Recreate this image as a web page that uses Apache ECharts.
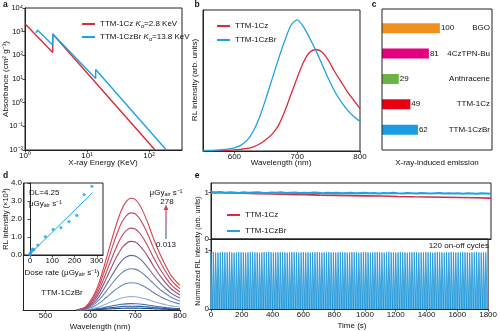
<!DOCTYPE html>
<html><head><meta charset="utf-8">
<script src="https://cdn.jsdelivr.net/npm/echarts@6/dist/echarts.min.js"></script>
<style>html,body{margin:0;padding:0;background:#fff}#c{width:500px;height:331px}</style>
</head><body><div id="c"></div>
<script>
// ---------- Panel a : X-ray absorption ----------
const aEnergyCz = [1, 2.8, 2.8, 125];
const aAbsCz    = [2150, 133, 800, 0.01];
const aEnergyBr = [1.5, 1.6, 2.8, 2.8, 13.8, 13.8, 190];
const aAbsBr    = [900, 1150, 275, 800, 10.5, 25, 0.01];
const aYTickLabels = {'-2':'10⁻²','-1':'10⁻¹','0':'10⁰','1':'10¹','2':'10²','3':'10³','4':'10⁴'};
// ---------- Panel b : RL spectra ----------
const bWave = [550,560,570,580,590,600,610,620,630,640,650,660,670,680,690,700,710,720,730,740,750,760,770,780,790,800];
const bCzBr = [0.003,0.004,0.006,0.009,0.014,0.022,0.04,0.075,0.14,0.24,0.37,0.51,0.65,0.78,0.89,0.93,0.88,0.80,0.71,0.61,0.51,0.42,0.35,0.29,0.245,0.21];
const bCz   = [0,0.001,0.002,0.003,0.005,0.008,0.012,0.018,0.03,0.05,0.08,0.12,0.18,0.28,0.40,0.52,0.63,0.70,0.72,0.70,0.64,0.56,0.49,0.42,0.36,0.30];
const bTicks = [600,700,800];
// ---------- Panel c : X-ray induced emission ----------
const cNames  = ['BGO','4CzTPN-Bu','Anthracene','TTM-1Cz','TTM-1CzBr'];
const cValues = [100,81,29,49,62];
const cColors = ['#F0901E','#E4007F','#6AB344','#E60012','#1A9BE2'];
// ---------- Panel d : dose-dependent RL ----------
const dWave  = [570,580,590,600,610,620,630,640,650,660,670,680,690,700,710,720,730,740,750,760,770,780,790,800];
const dShape = [0,0.01,0.03,0.08,0.15,0.25,0.38,0.52,0.66,0.79,0.90,0.97,1.0,0.99,0.94,0.86,0.76,0.65,0.55,0.46,0.38,0.31,0.26,0.22];
const dPeaks = [0.88,0.765,0.645,0.54,0.43,0.325,0.215,0.105,0.05,0.03,0.015];
const dColors = ['#D8414F','#CF4456','#BC465E','#9E4A6C','#5E6A9C','#6A82B2','#6688BC','#8FB0D8','#3C6AA8','#1F5599','#174A8A'];
const dTicks = [500,600,700,800];
const dDose  = [0.013,0.5,2,5,9,12,17,35,69,104,139,175,210,243,278];
const dInt   = [0.02,0.05,0.1,0.2,0.25,0.33,0.3,0.55,1.02,1.42,1.52,1.85,2.2,3.35,3.82];
const dFitX  = [0,280];
const dFitY  = [0.05,3.45];
const dInsetXTicks = [0,100,200,300];
// ---------- Panel e : stability ----------
const eRedT = [0,100,200,300,400,500,600,700,800,900,1000,1100,1200,1300,1400,1500,1600,1700,1800];
const eRed  = [1.0,0.99,0.98,0.97,0.965,0.955,0.95,0.94,0.935,0.93,0.925,0.92,0.912,0.905,0.90,0.895,0.89,0.885,0.875];
const eBlueStep = 30;
const eBlue = [1.00,0.995,1.005,0.99,1.0,0.995,0.985,1.0,0.99,0.995,1.0,0.99,0.985,0.995,0.99,1.0,0.985,0.99,0.995,0.985,0.99,0.985,0.995,0.99,0.98,0.99,0.985,0.99,0.98,0.985,0.99,0.98,0.985,0.99,0.98,0.985,0.975,0.985,0.98,0.99,0.98,0.975,0.985,0.98,0.975,0.985,0.98,0.975,0.98,0.985,0.975,0.98,0.975,0.98,0.97,0.98,0.975,0.97,0.98,0.975,0.97];
const eCyclePeriod = 15, eCycleOn = 10;
const ePulsePeaks = [0.97,0.975,0.97,0.965,0.97,0.975,0.97,0.97,0.98,0.97,0.965,0.97,0.975,0.97,0.97,0.965,0.97,0.975,0.97,0.97,
 0.97,0.965,0.97,0.975,0.97,0.98,0.97,0.965,0.97,0.97,0.975,0.97,0.97,0.965,0.97,0.975,0.97,0.97,0.965,0.97,
 0.975,0.97,0.97,0.965,0.97,0.97,0.975,0.97,0.965,0.97,0.97,0.975,0.97,0.97,0.965,0.97,0.975,0.97,0.97,0.965,
 0.97,0.975,0.97,0.97,0.965,0.97,0.97,0.975,0.97,0.965,0.97,0.97,0.975,0.97,0.97,0.965,0.97,0.98,0.97,0.97,
 0.965,0.97,0.975,0.97,0.97,0.965,0.97,0.97,0.975,0.97,0.965,0.97,0.97,0.975,0.97,0.97,0.965,0.97,0.975,0.97,
 0.97,0.965,0.97,0.97,0.975,0.97,0.965,0.97,0.97,0.975,0.97,0.97,0.965,0.97,0.97,0.975,0.97,0.965,0.97,0.97];
const eTicks = [0,1];

const RED = '#DC2A3C', BLUE = '#1FA3E0';
const FONT = 'Liberation Sans, Arial, sans-serif';
const chart = echarts.init(document.getElementById('c'));

const zip = (xs, ys) => xs.map((x, i) => [x, ys[i]]);
const axLine = {show:true, lineStyle:{color:'#222', width:1}};
const lbl = (o) => Object.assign({color:'#111', fontSize:8, fontFamily:FONT, margin:2}, o||{});
const tick = (o) => Object.assign({show:true, length:2.5, lineStyle:{color:'#222', width:0.8}}, o||{});
const noSplit = {show:false};
const plain = v => String(v);

// pulse train
const pulse = [];
ePulsePeaks.forEach((h, i) => {
  const t0 = i * eCyclePeriod;
  pulse.push([t0, 0], [t0, h], [t0 + eCycleOn, h], [t0 + eCycleOn, 0]);
});
pulse.push([1800, 0]);
const eBlueData = eBlue.map((v, i) => [i * eBlueStep, v]);

const grids = [
  {left:25, top:8, width:157, height:142},     // a
  {left:203, top:10, width:157, height:141},   // b
  {left:382, top:15.6, width:110, height:126.7},// c
  {left:23, top:183, width:157, height:127},   // d main
  {left:24, top:183, width:79, height:72},     // d inset
  {left:211, top:183, width:280, height:56},   // e top
  {left:211, top:239, width:280, height:70}    // e bottom
].map(g => Object.assign({show:false, containLabel:false}, g));
grids[0].show = grids[1].show = grids[4].show = grids[5].show = grids[6].show = true;
grids.forEach(g => { if (g.show) { g.borderColor = '#222'; g.borderWidth = 1; g.backgroundColor = 'transparent'; } });

const xAxis = [
  {gridIndex:0, type:'log', logBase:10, min:1, max:340, axisLine:axLine, splitLine:noSplit,
   axisTick:tick(), minorTick:{show:false},
   axisLabel:lbl({showMaxLabel:false, formatter:v => { const e = Math.log10(v); return Math.abs(e - Math.round(e)) < 1e-6 ? aYTickLabels[String(Math.round(e))] : ''; }})},
  {gridIndex:1, type:'value', min:550, max:800, axisLine:axLine, splitLine:noSplit,
   axisTick:tick({customValues:bTicks}), axisLabel:lbl({customValues:bTicks, formatter:plain})},
  {gridIndex:2, type:'value', min:0, max:190, show:false},
  {gridIndex:3, type:'value', min:450, max:800, axisLine:axLine, splitLine:noSplit,
   axisTick:tick({customValues:dTicks}), axisLabel:lbl({customValues:dTicks, formatter:plain})},
  {gridIndex:4, type:'value', min:-27, max:328, axisLine:axLine, splitLine:noSplit,
   axisTick:tick({customValues:dInsetXTicks}), axisLabel:lbl({customValues:dInsetXTicks, formatter:plain})},
  {gridIndex:5, type:'value', min:0, max:1800, axisLine:axLine, splitLine:noSplit, axisTick:{show:false}, axisLabel:{show:false}},
  {gridIndex:6, type:'value', min:0, max:1800, interval:200, axisLine:axLine, splitLine:noSplit,
   axisTick:tick(), axisLabel:lbl({formatter:plain})}
];
const yAxis = [
  {gridIndex:0, type:'log', logBase:10, min:0.01, max:10000, splitNumber:6, axisLine:axLine, splitLine:noSplit,
   axisTick:tick(), minorTick:{show:false},
   axisLabel:lbl({fontSize:7.5, formatter:v => aYTickLabels[String(Math.round(Math.log10(v)))] || ''})},
  {gridIndex:1, type:'value', min:0, max:1, axisLine:axLine, splitLine:noSplit, axisTick:{show:false}, axisLabel:{show:false}},
  {gridIndex:2, type:'category', data:cNames, inverse:true, position:'right', axisLine:{show:false}, axisTick:{show:false},
   axisLabel:lbl({inside:true, fontSize:8, margin:2})},
  {gridIndex:3, type:'value', min:0, max:1, axisLine:axLine, splitLine:noSplit, axisTick:{show:false}, axisLabel:{show:false}},
  {gridIndex:4, type:'value', min:0, max:4, interval:1, axisLine:axLine, splitLine:noSplit, axisTick:tick(),
   axisLabel:lbl({formatter:v => v.toFixed(1)})},
  {gridIndex:5, type:'value', min:0, max:1.2, axisLine:axLine, splitLine:noSplit,
   axisTick:tick({customValues:eTicks}), axisLabel:lbl({customValues:eTicks, formatter:plain})},
  {gridIndex:6, type:'value', min:0, max:1.2, axisLine:axLine, splitLine:noSplit,
   axisTick:tick({customValues:eTicks}), axisLabel:lbl({customValues:eTicks, formatter:plain})}
];

const line = (name, xi, data, color, w, extra) => Object.assign({
  type:'line', name, xAxisIndex:xi, yAxisIndex:xi, data, showSymbol:false, symbol:'none',
  lineStyle:{color, width:w}, itemStyle:{color}, animation:false, silent:true, z:3
}, extra||{});

const series = [
  line('TTM-1Cz', 0, zip(aEnergyCz, aAbsCz), RED, 1.4),
  line('TTM-1CzBr', 0, zip(aEnergyBr, aAbsBr), BLUE, 1.4),
  line('TTM-1Cz', 1, zip(bWave, bCz), RED, 1.3, {smooth:0.3}),
  line('TTM-1CzBr', 1, zip(bWave, bCzBr), BLUE, 1.3, {smooth:0.3}),
  {type:'bar', name:'emission', xAxisIndex:2, yAxisIndex:2, barWidth:10, animation:false,
   data:cValues.map((v, i) => ({value:v, itemStyle:{color:cColors[i]}})),
   label:{show:true, position:'right', distance:1, fontSize:8, color:'#111', fontFamily:FONT}},
];
dPeaks.slice().reverse().forEach((p, k) => {
  const idx = dPeaks.length - 1 - k;
  series.push(line('d' + idx, 3, dWave.map((w, i) => [w, dShape[i] * p]), dColors[idx], 1.1, {smooth:0.3}));
});
series.push(
  {type:'scatter', name:'dose', xAxisIndex:4, yAxisIndex:4, data:zip(dDose, dInt), symbolSize:3.2,
   itemStyle:{color:BLUE}, animation:false, silent:true, z:4},
  line('fit', 4, zip(dFitX, dFitY), BLUE, 1),
  line('TTM-1Cz', 5, zip(eRedT, eRed), RED, 1.6),
  line('TTM-1CzBr', 5, eBlueData, BLUE, 2.2),
  line('pulse', 6, pulse, '#1B93D6', 0.8, {areaStyle:{color:'#72C2EE', opacity:1}})
);

const legendBase = {icon:'rect', itemWidth:13, itemHeight:2, orient:'vertical', selectedMode:false,
  textStyle:{fontSize:8, fontFamily:FONT, color:'#111', lineHeight:10}};
const legends = [
  Object.assign({}, legendBase, {data:['TTM-1Cz','TTM-1CzBr'], left:77, top:14, itemGap:3,
    formatter:n => n === 'TTM-1Cz' ? 'TTM-1Cz {i|K}{s|α}=2.8 KeV' : 'TTM-1CzBr {i|K}{s|α}=13.8 KeV',
    textStyle:{fontSize:8, fontFamily:FONT, color:'#111', lineHeight:10,
      rich:{i:{fontStyle:'italic', fontSize:8, fontFamily:FONT}, s:{fontSize:5.5, fontFamily:FONT, verticalAlign:'bottom', lineHeight:7}}}}),
  Object.assign({}, legendBase, {data:['TTM-1Cz','TTM-1CzBr'], left:212, top:16, itemGap:4}),
  Object.assign({}, legendBase, {data:['TTM-1Cz','TTM-1CzBr'], left:222, top:205, itemGap:6})
];

const txt = (x, y, s, o) => ({type:'text', x, y, silent:true, z:10,
  style:Object.assign({text:s, fontSize:8, fontFamily:FONT, fill:'#111', align:'center', verticalAlign:'middle'}, o||{})});
const vtxt = (x, y, s, o) => Object.assign(txt(x, y, s, o), {rotation:Math.PI/2});
const sub = {s:{fontSize:5.5, fontFamily:FONT, verticalAlign:'bottom', lineHeight:7}};

const graphic = [
  txt(3, 5, 'a', {fontWeight:'bold', fontSize:8.5, align:'left'}),
  txt(197, 5, 'b', {fontWeight:'bold', fontSize:8.5}),
  txt(374, 5, 'c', {fontWeight:'bold', fontSize:8.5}),
  txt(3, 176, 'd', {fontWeight:'bold', fontSize:8.5, align:'left'}),
  txt(197, 176, 'e', {fontWeight:'bold', fontSize:8.5}),
  vtxt(6, 79, 'Absorbance (cm² g⁻¹)'),
  txt(103, 163, 'X-ray Energy (KeV)'),
  vtxt(195, 80, 'RL intensity (arb. units)'),
  txt(281, 163, 'Wavelength (nm)'),
  txt(437, 163, 'X-ray-induced emission'),
  {type:'rect', shape:{x:382, y:9, width:110, height:141}, style:{fill:'none', stroke:'#222', lineWidth:1}, silent:true, z:10},
  vtxt(6, 219, 'RL intensity (×10³)', {fontSize:7.5}),
  txt(62, 273, 'Dose rate (μGy{s|air} s⁻¹)', {rich:sub}),
  txt(100, 327, 'Wavelength (nm)'),
  txt(62, 293, 'TTM-1CzBr'),
  txt(29, 193, 'DL=4.25', {align:'left'}),
  txt(29, 204, 'μGy{s|air} s⁻¹', {align:'left', rich:sub}),
  txt(166, 193, 'μGy{s|air} s⁻¹', {rich:sub}),
  txt(167, 202, '278'),
  txt(166, 245, '0.013'),
  {type:'line', shape:{x1:166, y1:239, x2:166, y2:209}, silent:true, z:10,
   style:{lineWidth:1.2, stroke:new echarts.graphic.LinearGradient(0, 1, 0, 0, [{offset:0, color:'#3B6FB6'}, {offset:1, color:'#D8414F'}])}},
  {type:'polygon', shape:{points:[[163.5, 210], [168.5, 210], [166, 204.5]]}, style:{fill:'#D8414F'}, silent:true, z:10},
  vtxt(198, 251, 'Normalized RL intensity (arb. units)', {fontSize:7}),
  txt(352, 326, 'Time (s)'),
  txt(489, 246, '120 on-off cycles', {align:'right'})
];

chart.setOption({
  animation:false,
  textStyle:{fontFamily:FONT},
  grid:grids, xAxis, yAxis, series, legend:legends, graphic
});
</script></body></html>
